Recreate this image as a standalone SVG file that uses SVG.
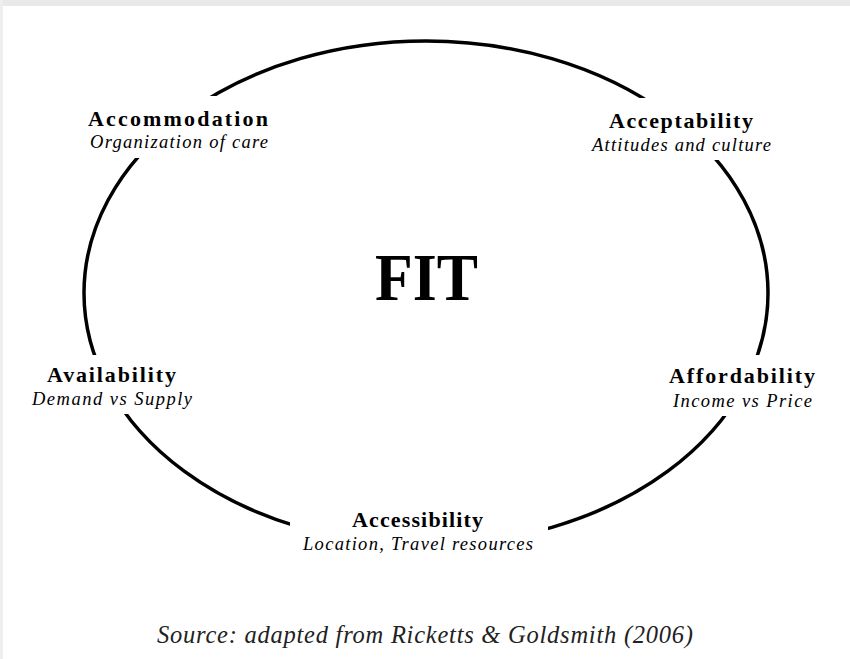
<svg xmlns="http://www.w3.org/2000/svg" width="850" height="659" viewBox="0 0 850 659">
<style>
.t{font-family:"Liberation Serif","Times New Roman",serif;font-weight:bold;font-size:22px;fill:#000;text-anchor:middle}
.s{font-family:"Liberation Serif","Times New Roman",serif;font-style:italic;font-size:18.5px;fill:#000;text-anchor:middle}
.bg{fill:#fff}
</style>
<rect width="850" height="659" fill="#fff"/>
<rect x="0" y="0" width="850" height="6" fill="#e9e9e9"/>
<rect x="0" y="0" width="3" height="659" fill="#eeeeee"/>
<g id="connectors">
<ellipse cx="426" cy="293" rx="342" ry="252" fill="none" stroke="#000" stroke-width="3.5"/>
</g>
<g id="fit">
<text x="426.5" y="300" font-family="Liberation Serif, Times New Roman, serif" font-weight="bold" font-size="68" text-anchor="middle" textLength="103" lengthAdjust="spacingAndGlyphs">FIT</text>
</g>
<g id="accommodation">
<rect class="bg" x="80" y="96" width="196" height="62"/>
<text class="t" x="178" y="126" textLength="180" lengthAdjust="spacing">Accommodation</text>
<text class="s" x="179" y="148" textLength="178" lengthAdjust="spacing">Organization of care</text>
</g>
<g id="acceptability">
<rect class="bg" x="586" y="98" width="192" height="62"/>
<text class="t" x="681" y="128" textLength="144" lengthAdjust="spacing">Acceptability</text>
<text class="s" x="681.5" y="151" textLength="179" lengthAdjust="spacing">Attitudes and culture</text>
</g>
<g id="availability">
<rect class="bg" x="25" y="355" width="176" height="59"/>
<text class="t" x="111.5" y="382" textLength="129" lengthAdjust="spacing">Availability</text>
<text class="s" x="112" y="405" textLength="160" lengthAdjust="spacing">Demand vs Supply</text>
</g>
<g id="affordability">
<rect class="bg" x="660" y="355" width="162" height="61"/>
<text class="t" x="742" y="383" textLength="146" lengthAdjust="spacing">Affordability</text>
<text class="s" x="742.5" y="407" textLength="139" lengthAdjust="spacing">Income vs Price</text>
</g>
<g id="accessibility">
<rect class="bg" x="290" y="505" width="258" height="56"/>
<text class="t" x="417.5" y="527" textLength="131" lengthAdjust="spacing">Accessibility</text>
<text class="s" x="418" y="550" textLength="230" lengthAdjust="spacing">Location, Travel resources</text>
</g>
<g id="source">
<text x="425" y="643" font-family="Liberation Serif, Times New Roman, serif" font-style="italic" font-size="24.5" text-anchor="middle" fill="#222" textLength="536" lengthAdjust="spacing">Source: adapted from Ricketts &amp; Goldsmith (2006)</text>
</g>
</svg>
